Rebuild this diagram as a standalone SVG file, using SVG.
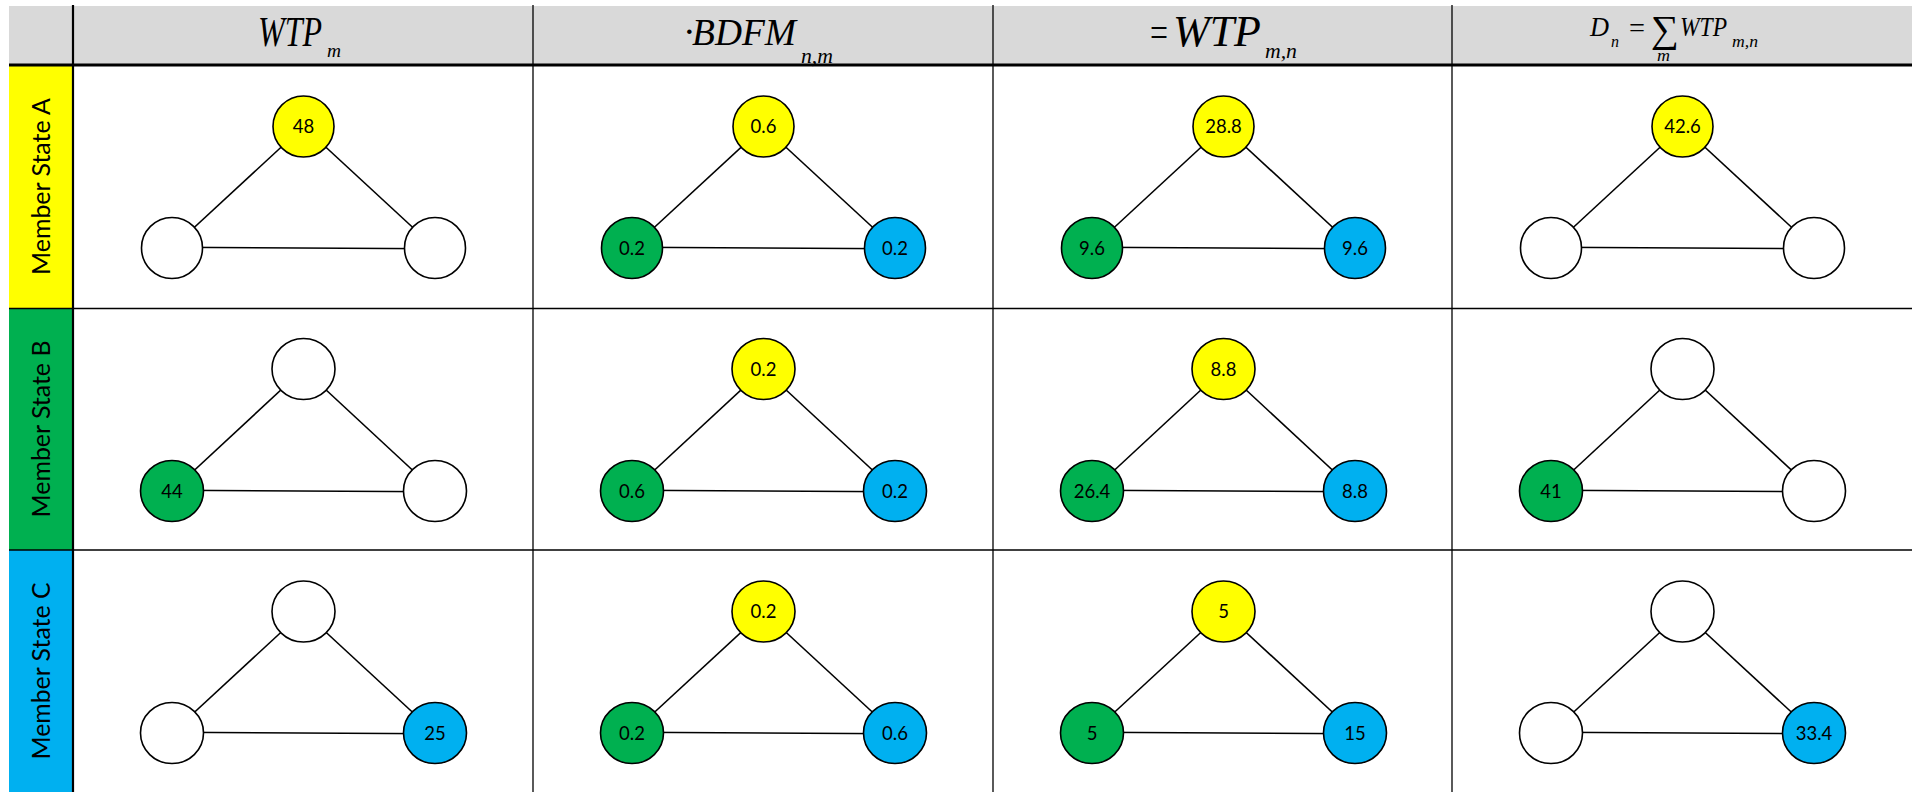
<svg xmlns="http://www.w3.org/2000/svg" width="1912" height="792" viewBox="0 0 1912 792">
  <style>
    .grid { stroke: #000; fill: none; }
    .edge { stroke: #000; stroke-width: 1.6; }
    .node { stroke: #000; stroke-width: 1.6; }
    .w { fill: #ffffff; }
    .y { fill: #ffff00; }
    .g { fill: #00b050; }
    .b { fill: #00b0f0; }
    .val { font-family: Lato, "Open Sans", sans-serif; font-size: 18.5px; fill: #000; text-anchor: middle; }
    .lab { font-family: Lato, "Open Sans", sans-serif; font-size: 24.5px; fill: #000; text-anchor: middle; }
    .eq { font-family: "Liberation Serif", "Times New Roman", serif; font-style: italic; fill: #000; }
    .op { font-family: "Liberation Serif", "DejaVu Serif", serif; fill: #000; }
  </style>

  <!-- backgrounds -->
  <rect x="9" y="6" width="1903" height="59" fill="#d9d9d9"/>
  <rect x="9" y="65" width="64" height="243.5" fill="#ffff00"/>
  <rect x="9" y="308.5" width="64" height="241.5" fill="#00b050"/>
  <rect x="9" y="550" width="64" height="242" fill="#00b0f0"/>

  <!-- table grid -->
  <g id="grid" class="grid">
    <line x1="9" y1="65" x2="1912" y2="65" stroke-width="3"/>
    <line x1="9" y1="308.5" x2="1912" y2="308.5" stroke-width="1.3"/>
    <line x1="9" y1="550" x2="1912" y2="550" stroke-width="1.3"/>
    <line x1="73" y1="5" x2="73" y2="792" stroke-width="2.2"/>
    <line x1="533" y1="5" x2="533" y2="792" stroke-width="1.3"/>
    <line x1="993" y1="5" x2="993" y2="792" stroke-width="1.3"/>
    <line x1="1452" y1="5" x2="1452" y2="792" stroke-width="1.3"/>
  </g>

  <!-- column headers -->
  <g id="header-1">
    <text class="eq" x="258" y="46" font-size="43" textLength="64" lengthAdjust="spacingAndGlyphs">WTP</text>
    <text class="eq" x="327" y="57" font-size="19" textLength="14" lengthAdjust="spacingAndGlyphs">m</text>
  </g>
  <g id="header-2">
    <text class="op" x="683" y="44" font-size="38">·</text>
    <text class="eq" x="692" y="45" font-size="38" textLength="104" lengthAdjust="spacingAndGlyphs">BDFM</text>
    <text class="eq" x="801" y="63" font-size="20" textLength="32" lengthAdjust="spacingAndGlyphs">n,m</text>
  </g>
  <g id="header-3">
    <text class="op" x="1150" y="46" font-size="42" textLength="18" lengthAdjust="spacingAndGlyphs">=</text>
    <text class="eq" x="1173" y="46" font-size="44" textLength="88" lengthAdjust="spacingAndGlyphs">WTP</text>
    <text class="eq" x="1265" y="58" font-size="20" textLength="32" lengthAdjust="spacingAndGlyphs">m,n</text>
  </g>
  <g id="header-4">
    <text class="eq" x="1590" y="35.5" font-size="28" textLength="19" lengthAdjust="spacingAndGlyphs">D</text>
    <text class="eq" x="1611" y="46.5" font-size="16" textLength="8" lengthAdjust="spacingAndGlyphs">n</text>
    <text class="op" x="1629" y="37" font-size="28" textLength="16" lengthAdjust="spacingAndGlyphs">=</text>
    <text class="op" x="1651" y="42" font-size="38" textLength="28" lengthAdjust="spacingAndGlyphs">∑</text>
    <text class="eq" x="1657" y="61" font-size="16" textLength="13" lengthAdjust="spacingAndGlyphs">m</text>
    <text class="eq" x="1680" y="35.5" font-size="28" textLength="47" lengthAdjust="spacingAndGlyphs">WTP</text>
    <text class="eq" x="1732" y="46.5" font-size="16" textLength="26" lengthAdjust="spacingAndGlyphs">m,n</text>
  </g>

  <!-- row labels -->
  <g id="row-A"><text class="lab" x="50" y="186.5" transform="rotate(-90 50 186.5)" textLength="177" lengthAdjust="spacingAndGlyphs">Member State A</text></g>
  <g id="row-B"><text class="lab" x="50" y="429" transform="rotate(-90 50 429)" textLength="177" lengthAdjust="spacingAndGlyphs">Member State B</text></g>
  <g id="row-C"><text class="lab" x="50" y="671" transform="rotate(-90 50 671)" textLength="177" lengthAdjust="spacingAndGlyphs">Member State C</text></g>

  <!-- edges of every triangle -->
  <g id="connectors" class="edge">
    <line x1="303.5" y1="126.5" x2="172" y2="248"/><line x1="303.5" y1="126.5" x2="435" y2="248"/><line x1="172" y1="247.3" x2="435" y2="248.7"/>
    <line x1="763.5" y1="126.5" x2="632" y2="248"/><line x1="763.5" y1="126.5" x2="895" y2="248"/><line x1="632" y1="247.3" x2="895" y2="248.7"/>
    <line x1="1223.5" y1="126.5" x2="1092" y2="248"/><line x1="1223.5" y1="126.5" x2="1355" y2="248"/><line x1="1092" y1="247.3" x2="1355" y2="248.7"/>
    <line x1="1682.5" y1="126.5" x2="1551" y2="248"/><line x1="1682.5" y1="126.5" x2="1814" y2="248"/><line x1="1551" y1="247.3" x2="1814" y2="248.7"/>

    <line x1="303.5" y1="369" x2="172" y2="491"/><line x1="303.5" y1="369" x2="435" y2="491"/><line x1="172" y1="490.3" x2="435" y2="491.7"/>
    <line x1="763.5" y1="369" x2="632" y2="491"/><line x1="763.5" y1="369" x2="895" y2="491"/><line x1="632" y1="490.3" x2="895" y2="491.7"/>
    <line x1="1223.5" y1="369" x2="1092" y2="491"/><line x1="1223.5" y1="369" x2="1355" y2="491"/><line x1="1092" y1="490.3" x2="1355" y2="491.7"/>
    <line x1="1682.5" y1="369" x2="1551" y2="491"/><line x1="1682.5" y1="369" x2="1814" y2="491"/><line x1="1551" y1="490.3" x2="1814" y2="491.7"/>

    <line x1="303.5" y1="611.5" x2="172" y2="733"/><line x1="303.5" y1="611.5" x2="435" y2="733"/><line x1="172" y1="732.3" x2="435" y2="733.7"/>
    <line x1="763.5" y1="611.5" x2="632" y2="733"/><line x1="763.5" y1="611.5" x2="895" y2="733"/><line x1="632" y1="732.3" x2="895" y2="733.7"/>
    <line x1="1223.5" y1="611.5" x2="1092" y2="733"/><line x1="1223.5" y1="611.5" x2="1355" y2="733"/><line x1="1092" y1="732.3" x2="1355" y2="733.7"/>
    <line x1="1682.5" y1="611.5" x2="1551" y2="733"/><line x1="1682.5" y1="611.5" x2="1814" y2="733"/><line x1="1551" y1="732.3" x2="1814" y2="733.7"/>
  </g>

  <!-- Member State A -->
  <g id="A1-top"><ellipse class="node y" cx="303.5" cy="126.5" rx="30.5" ry="30.5"/><text class="val" x="303.5" y="133">48</text></g>
  <g id="A1-left"><ellipse class="node w" cx="172" cy="248" rx="30.5" ry="30.5"/></g>
  <g id="A1-right"><ellipse class="node w" cx="435" cy="248" rx="30.5" ry="30.5"/></g>

  <g id="A2-top"><ellipse class="node y" cx="763.5" cy="126.5" rx="30.5" ry="30.5"/><text class="val" x="763.5" y="133">0.6</text></g>
  <g id="A2-left"><ellipse class="node g" cx="632" cy="248" rx="30.5" ry="30.5"/><text class="val" x="632" y="254.5">0.2</text></g>
  <g id="A2-right"><ellipse class="node b" cx="895" cy="248" rx="30.5" ry="30.5"/><text class="val" x="895" y="254.5">0.2</text></g>

  <g id="A3-top"><ellipse class="node y" cx="1223.5" cy="126.5" rx="30.5" ry="30.5"/><text class="val" x="1223.5" y="133">28.8</text></g>
  <g id="A3-left"><ellipse class="node g" cx="1092" cy="248" rx="30.5" ry="30.5"/><text class="val" x="1092" y="254.5">9.6</text></g>
  <g id="A3-right"><ellipse class="node b" cx="1355" cy="248" rx="30.5" ry="30.5"/><text class="val" x="1355" y="254.5">9.6</text></g>

  <g id="A4-top"><ellipse class="node y" cx="1682.5" cy="126.5" rx="30.5" ry="30.5"/><text class="val" x="1682.5" y="133">42.6</text></g>
  <g id="A4-left"><ellipse class="node w" cx="1551" cy="248" rx="30.5" ry="30.5"/></g>
  <g id="A4-right"><ellipse class="node w" cx="1814" cy="248" rx="30.5" ry="30.5"/></g>

  <!-- Member State B -->
  <g id="B1-top"><ellipse class="node w" cx="303.5" cy="369" rx="31.5" ry="30.5"/></g>
  <g id="B1-left"><ellipse class="node g" cx="172" cy="491" rx="31.5" ry="30.5"/><text class="val" x="172" y="497.5">44</text></g>
  <g id="B1-right"><ellipse class="node w" cx="435" cy="491" rx="31.5" ry="30.5"/></g>

  <g id="B2-top"><ellipse class="node y" cx="763.5" cy="369" rx="31.5" ry="30.5"/><text class="val" x="763.5" y="375.5">0.2</text></g>
  <g id="B2-left"><ellipse class="node g" cx="632" cy="491" rx="31.5" ry="30.5"/><text class="val" x="632" y="497.5">0.6</text></g>
  <g id="B2-right"><ellipse class="node b" cx="895" cy="491" rx="31.5" ry="30.5"/><text class="val" x="895" y="497.5">0.2</text></g>

  <g id="B3-top"><ellipse class="node y" cx="1223.5" cy="369" rx="31.5" ry="30.5"/><text class="val" x="1223.5" y="375.5">8.8</text></g>
  <g id="B3-left"><ellipse class="node g" cx="1092" cy="491" rx="31.5" ry="30.5"/><text class="val" x="1092" y="497.5">26.4</text></g>
  <g id="B3-right"><ellipse class="node b" cx="1355" cy="491" rx="31.5" ry="30.5"/><text class="val" x="1355" y="497.5">8.8</text></g>

  <g id="B4-top"><ellipse class="node w" cx="1682.5" cy="369" rx="31.5" ry="30.5"/></g>
  <g id="B4-left"><ellipse class="node g" cx="1551" cy="491" rx="31.5" ry="30.5"/><text class="val" x="1551" y="497.5">41</text></g>
  <g id="B4-right"><ellipse class="node w" cx="1814" cy="491" rx="31.5" ry="30.5"/></g>

  <!-- Member State C -->
  <g id="C1-top"><ellipse class="node w" cx="303.5" cy="611.5" rx="31.5" ry="30.5"/></g>
  <g id="C1-left"><ellipse class="node w" cx="172" cy="733" rx="31.5" ry="30.5"/></g>
  <g id="C1-right"><ellipse class="node b" cx="435" cy="733" rx="31.5" ry="30.5"/><text class="val" x="435" y="739.5">25</text></g>

  <g id="C2-top"><ellipse class="node y" cx="763.5" cy="611.5" rx="31.5" ry="30.5"/><text class="val" x="763.5" y="618">0.2</text></g>
  <g id="C2-left"><ellipse class="node g" cx="632" cy="733" rx="31.5" ry="30.5"/><text class="val" x="632" y="739.5">0.2</text></g>
  <g id="C2-right"><ellipse class="node b" cx="895" cy="733" rx="31.5" ry="30.5"/><text class="val" x="895" y="739.5">0.6</text></g>

  <g id="C3-top"><ellipse class="node y" cx="1223.5" cy="611.5" rx="31.5" ry="30.5"/><text class="val" x="1223.5" y="618">5</text></g>
  <g id="C3-left"><ellipse class="node g" cx="1092" cy="733" rx="31.5" ry="30.5"/><text class="val" x="1092" y="739.5">5</text></g>
  <g id="C3-right"><ellipse class="node b" cx="1355" cy="733" rx="31.5" ry="30.5"/><text class="val" x="1355" y="739.5">15</text></g>

  <g id="C4-top"><ellipse class="node w" cx="1682.5" cy="611.5" rx="31.5" ry="30.5"/></g>
  <g id="C4-left"><ellipse class="node w" cx="1551" cy="733" rx="31.5" ry="30.5"/></g>
  <g id="C4-right"><ellipse class="node b" cx="1814" cy="733" rx="31.5" ry="30.5"/><text class="val" x="1814" y="739.5">33.4</text></g>
</svg>
